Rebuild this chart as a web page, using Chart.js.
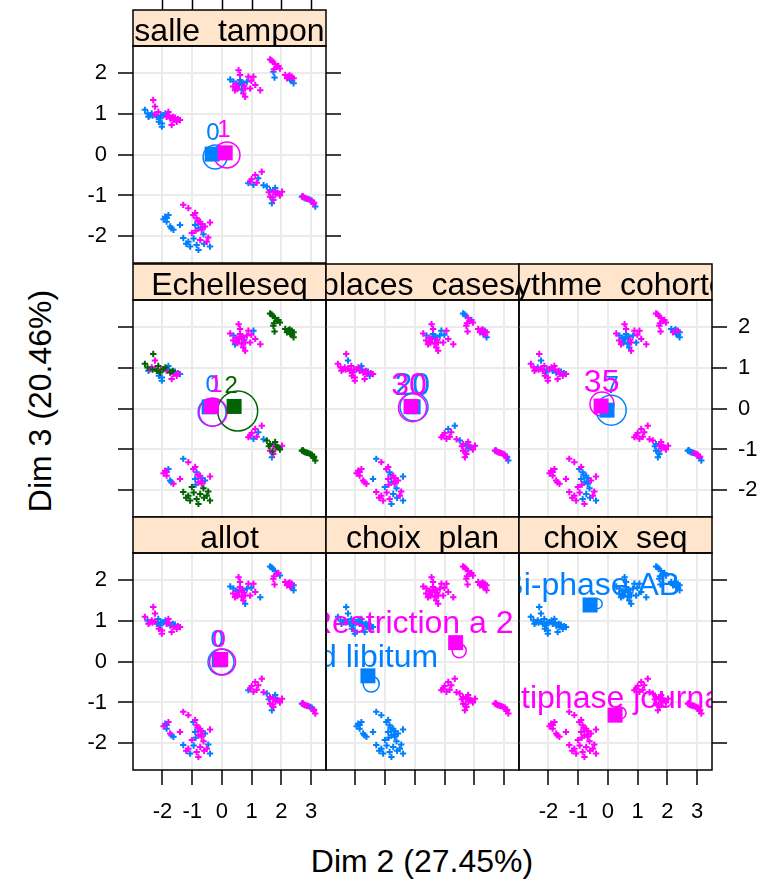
<!DOCTYPE html>
<html>
<head>
<meta charset="utf-8">
<title>Dim 2 / Dim 3</title>
<script src="https://cdn.jsdelivr.net/npm/chart.js@4.4.1/dist/chart.umd.min.js"></script>
<style>
  body { margin: 0; background: #fff; }
  #wrap { position: relative; width: 774px; height: 882px; overflow: hidden; background: #fff; }
  #wrap canvas { position: absolute; left: 0; top: 0; }
  .axtitle { position: absolute; font: 32px "Liberation Sans", Arial, sans-serif; color: #000; white-space: nowrap; line-height: 32px; }
</style>
</head>
<body>
<div id="wrap">
  <div class="axtitle" id="xtitle">Dim 2 (27.45%)</div>
  <div class="axtitle" id="ytitle">Dim 3 (20.46%)</div>
</div>
<script>
// individuals, same cloud in every panel (clusters A..F, then a second pass over A..F)
var ptX = [
  -2.59, -2.47, -2.31, -2.25, -2.14, -2.42, -2.08, -2.02, -1.97, -1.86, -1.80, -1.74, -1.63, -1.52, -1.41, -1.69, -2.02, -2.19, -2.36, -2.50, -1.90, -2.25, -1.58,
  0.56, 0.28, 0.39, 0.61, 0.67, 0.50, 0.78, 0.44, 0.72, 0.78, 0.89, 1.06, 1.12, 1.29, 0.84, 0.56, 0.95, 0.61, 0.70, 0.52,
  1.62, 1.71, 1.79, 1.85, 1.90, 1.73, 1.77, 2.13, 2.24, 2.35, 2.41, 2.30, 2.41, 2.19, 1.67, 2.28,
  1.12, 1.34, 0.89, 1.06, 1.17, 1.51, 1.62, 1.73, 1.85, 2.02, 1.62, 1.73, 1.68, 1.90, 1.79, 1.40, 1.95, 1.00,
  2.69, 2.80, 2.91, 3.03, 3.08, 3.14, 2.97, 2.75, 3.10,
  -1.91, -1.86, -1.74, -1.63, -1.80, -1.41, -1.30, -1.13, -0.96, -0.85, -0.73, -0.40, -0.90, -0.79, -0.68, -0.57, -1.01, -1.30, -1.13, -0.85, -0.73, -0.51, -0.40, -0.79, -1.07, -0.90, -1.86, -0.70, -0.62, -0.95,
  -2.33, -2.05, -1.78, -1.65, -2.12, -1.48,
  0.62, 0.48, 0.75, 0.66, 0.99, 0.38,
  1.75, 2.20, 2.36, 1.95,
  1.22, 1.58, 1.80, 1.70, 0.95,
  2.86, 3.02, 2.72,
  -1.96, -1.70, -0.82, -0.66, -0.88, -0.60, -1.20, -0.46
];
var ptY = [
  1.09, 0.92, 1.33, 1.17, 1.04, 0.96, 0.88, 0.76, 0.96, 0.92, 1.04, 0.88, 0.84, 0.80, 0.84, 0.72, 0.68, 0.92, 1.00, 1.00, 1.00, 0.98, 0.90,
  2.06, 1.83, 1.78, 1.82, 1.70, 1.65, 1.61, 1.57, 1.49, 1.41, 1.90, 1.90, 1.70, 1.57, 1.78, 1.70, 1.61, 1.94, 1.75, 1.60,
  2.32, 2.26, 2.21, 2.14, 2.16, 2.02, 1.88, 1.94, 1.91, 1.90, 1.86, 1.82, 1.74, 1.86, 2.30, 1.93,
  -0.50, -0.42, -0.70, -0.74, -0.69, -0.78, -0.87, -0.91, -0.93, -0.91, -1.03, -1.11, -1.19, -0.95, -0.82, -0.75, -1.00, -0.60,
  -1.03, -1.07, -1.09, -1.15, -1.21, -1.27, -1.11, -1.05, -1.18,
  -1.52, -1.64, -1.76, -1.84, -1.48, -1.72, -1.23, -1.31, -1.48, -1.56, -1.64, -1.66, -1.72, -1.80, -1.84, -1.76, -1.92, -2.04, -2.13, -2.21, -2.09, -2.13, -2.25, -2.33, -2.25, -1.43, -1.55, -1.70, -1.95, -2.05,
  0.95, 0.95, 0.95, 0.92, 0.80, 0.86,
  1.76, 1.72, 1.68, 1.58, 1.80, 1.66,
  2.08, 1.88, 1.80, 2.10,
  -0.58, -0.92, -0.98, -1.05, -0.66,
  -1.08, -1.13, -1.02,
  -1.58, -1.80, -1.62, -1.78, -1.86, -2.18, -2.18, -2.03
];

// category of each individual for each variable (one char per point)
var catSalle  = "00111000011111110000011" + "10000111111111001101" + "1111100111100111" + "110010011111000011" + "001110011" + "000000111111001110001100010100"
              + "001101" + "011011" + "1101" + "01101" + "101" + "00101001";
var catEchel  = "20212120210211010212210" + "11011110111011101111" + "2222222222222222" + "111012212111022021" + "222222222" + "110101011011011022222222211022"
              + "210201" + "110111" + "2222" + "02121" + "222" + "10110222";
var catPlaces = "11101111010110111111110" + "11000111110111011101" + "0011011110100101" + "001110101111101111" + "111010110" + "111110011010101101110100111101"
              + "110111" + "011101" + "1011" + "11011" + "110" + "11011011";
var catRythme = "11101101101011111101110" + "11000011011111000100" + "1111111001000110" + "111111011100011111" + "001100101" + "111111110001000111100101111001"
              + "101110" + "001011" + "1001" + "10101" + "010" + "11001011";
var catAllot  = "11110101011011111010010" + "10011111101110001101" + "0001111111010101" + "110110110111010111" + "011011011" + "001011110111011010111101010110"
              + "101011" + "101101" + "1100" + "10111" + "101" + "10110110";
var catPlan   = "00000000000000000000000" + "11111111111111111111" + "1111111111111111" + "111111111111111111" + "111111111" + "000000000000000000000000000000"
              + "000000" + "111111" + "1111" + "11111" + "111" + "00000000";
var catSeq    = "00000000000000000000000" + "00000000000000000000" + "0000000000000000" + "111111111111111111" + "111111111" + "111111111111111111111111111111"
              + "000000" + "000000" + "0000" + "11111" + "111" + "11111111";

// category centres (square), ellipse centres, label anchors
var salleLevels = ["0", "1"];
var salleCx = [-0.33, 0.11], salleCy = [0.01, 0.04];
var salleEx = [-0.23, 0.17], salleEy = [-0.06, -0.01];
var salleLx = [-0.30, 0.07], salleLy = [0.35, 0.43];

var echLevels = ["0", "1", "2"];
var echCx = [-0.43, -0.35, 0.41], echCy = [0.04, 0.05, 0.05];
var echEx = [-0.33, -0.30, 0.53], echEy = [-0.09, -0.09, -0.06];
var echLx = [-0.33, -0.20, 0.31], echLy = [0.40, 0.40, 0.38];

var placesLevels = ["20", "30"];
var placesCx = [-0.06, -0.13], placesCy = [0.04, 0.05];
var placesEx = [-0.03, -0.08], placesEy = [0.04, 0.02];
var placesLx = [-0.09, -0.20], placesLy = [0.33, 0.33];

var rythLevels = ["7", "35"];
var rythCx = [-0.03, -0.23], rythCy = [-0.04, 0.06];
var rythEx = [0.11, -0.20], rythEy = [-0.04, 0.11];
var rythLx = [0.14, -0.21], rythLy = [0.38, 0.40];

var allotLevels = ["0", "0"];
var allotCx = [-0.09, -0.04], allotCy = [0.04, 0.05];
var allotEx = [-0.03, 0.02], allotEy = [-0.01, -0.01];
var allotLx = [-0.16, -0.09], allotLy = [0.35, 0.35];

var planLevels = ["Ad libitum", "Restriction a 2 repas"];
var planCx = [-1.58, 1.37], planCy = [-0.35, 0.46];
var planEx = [-1.47, 1.49], planEy = [-0.55, 0.26];
var planLx = [-1.58, 1.37], planLy = [-0.13, 0.70];

var seqLevels = ["Bi-phase AB", "Multiphase journalier"];
var seqCx = [-0.60, 0.24], seqCy = [1.38, -1.31];
var seqEx = [-0.36, 0.41], seqEy = [1.41, -1.26];
var seqLx = [-0.56, 0.31], seqLy = [1.62, -1.14];

var xTicks = [-2, -1, 0, 1, 2, 3];
var yTicks = [-2, -1, 0, 1, 2];

var levelColors = ["#0080ff", "#ff00ff", "#006400"];
var W = 774, H = 882;
var colLeft = [133, 326, 519], panelTop = [46, 300, 553];
var panelW = 193, panelH = 217, stripH = 36, axisBox = 50;
var font = '"Liberation Sans", Arial, sans-serif';

var panels = [
  {title: "salle  tampon", col: 0, row: 0, cat: catSalle, lv: salleLevels, cx: salleCx, cy: salleCy, ex: salleEx, ey: salleEy, lx: salleLx, ly: salleLy,
   er: [12, 13], ls: [24, 24], left: "labels", right: "ticks", bottom: "none", top: true},
  {title: "Echelleseq", col: 0, row: 1, cat: catEchel, lv: echLevels, cx: echCx, cy: echCy, ex: echEx, ey: echEy, lx: echLx, ly: echLy,
   er: [14, 14, 20], ls: [24, 24, 24], left: "ticks", right: "none", bottom: "none"},
  {title: "places  cases/", col: 1, row: 1, cat: catPlaces, lv: placesLevels, cx: placesCx, cy: placesCy, ex: placesEx, ey: placesEy, lx: placesLx, ly: placesLy,
   er: [14, 14], ls: [32, 32], left: "none", right: "none", bottom: "none"},
  {title: "rythme  cohorte", col: 2, row: 1, cat: catRythme, lv: rythLevels, cx: rythCx, cy: rythCy, ex: rythEx, ey: rythEy, lx: rythLx, ly: rythLy,
   er: [15, 12], ls: [24, 32], left: "none", right: "labels", bottom: "none"},
  {title: "allot", col: 0, row: 2, cat: catAllot, lv: allotLevels, cx: allotCx, cy: allotCy, ex: allotEx, ey: allotEy, lx: allotLx, ly: allotLy,
   er: [13, 13], ls: [24, 24], left: "labels", right: "none", bottom: "labels"},
  {title: "choix  plan", col: 1, row: 2, cat: catPlan, lv: planLevels, cx: planCx, cy: planCy, ex: planEx, ey: planEy, lx: planLx, ly: planLy,
   er: [8, 7], ls: [32, 32], left: "none", right: "none", bottom: "ticks"},
  {title: "choix  seq", col: 2, row: 2, cat: catSeq, lv: seqLevels, cx: seqCx, cy: seqCy, ex: seqEx, ey: seqEy, lx: seqLx, ly: seqLy,
   er: [5, 6], ls: [32, 32], left: "none", right: "ticks", bottom: "labels"}
];

function axis(pos, mode, onArea, ticks) {
  var vertical = pos === "left" || pos === "right";
  return {
    type: "linear", position: pos,
    min: vertical ? -2.65 : -2.99, max: vertical ? 2.65 : 3.5,
    afterBuildTicks: function (s) { s.ticks = ticks.map(function (v) { return {value: v}; }); },
    afterFit: function (s) { if (vertical) s.width = axisBox; else s.height = axisBox; },
    border: {display: false},
    grid: {drawOnChartArea: onArea, color: "#ebebeb", lineWidth: 2, drawTicks: mode !== "none",
           tickLength: 15, tickColor: "#000", tickWidth: 1.5},
    ticks: {display: mode === "labels", color: "#000", font: {family: font, size: 22},
            padding: vertical ? 11 : 14, maxRotation: 0, autoSkip: false}
  };
}

function makePanel(p) {
  var canvas = document.createElement("canvas");
  canvas.width = W; canvas.height = H;
  document.getElementById("wrap").appendChild(canvas);
  var left = colLeft[p.col], top = panelTop[p.row];

  var datasets = [];
  p.lv.forEach(function (name, k) {
    var pts = [];
    for (var i = 0; i < ptX.length; i++) if (p.cat[i] === String(k)) pts.push({x: ptX[i], y: ptY[i]});
    datasets.push({data: pts, order: 30 - k, clip: 0, pointStyle: "cross", pointRadius: 3.2,
                   pointBorderColor: levelColors[k], pointBorderWidth: 2});
    datasets.push({data: [{x: p.ex[k], y: p.ey[k]}], order: 20 - k, clip: 0, pointStyle: "circle", pointRadius: p.er[k],
                   pointBorderColor: levelColors[k], pointBackgroundColor: "rgba(0,0,0,0)", pointBorderWidth: 1.5});
    datasets.push({data: [{x: p.cx[k], y: p.cy[k]}], order: 10 - k, clip: 0, pointStyle: "rect", pointRadius: 10.6,
                   pointBackgroundColor: levelColors[k], pointBorderWidth: 0});
  });

  var deco = {
    id: "deco",
    afterDatasetsDraw: function (chart) {
      var ctx = chart.ctx, a = chart.chartArea, sx = chart.scales.x, sy = chart.scales.y;
      ctx.save();
      ctx.beginPath(); ctx.rect(a.left, a.top, a.right - a.left, a.bottom - a.top); ctx.clip();
      ctx.textAlign = "center"; ctx.textBaseline = "alphabetic";
      p.lv.forEach(function (name, k) {
        ctx.font = p.ls[k] + "px " + font;
        ctx.fillStyle = levelColors[k];
        ctx.fillText(name, sx.getPixelForValue(p.lx[k]), sy.getPixelForValue(p.ly[k]));
      });
      ctx.restore();
    },
    afterDraw: function (chart) {
      var ctx = chart.ctx, a = chart.chartArea, sx = chart.scales.x;
      var sTop = a.top - stripH, w = a.right - a.left;
      ctx.save();
      ctx.fillStyle = "#ffe5cc";
      ctx.fillRect(a.left, sTop, w, stripH);
      ctx.strokeStyle = "#000"; ctx.lineWidth = 1.5;
      ctx.strokeRect(a.left, sTop, w, stripH);
      ctx.strokeRect(a.left, a.top, w, a.bottom - a.top);
      if (p.top) {
        xTicks.forEach(function (v) {
          var px = Math.round(sx.getPixelForValue(v)) + 0.5;
          ctx.beginPath(); ctx.moveTo(px, sTop - 15); ctx.lineTo(px, sTop); ctx.stroke();
        });
      }
      ctx.beginPath(); ctx.rect(a.left, sTop, w, stripH); ctx.clip();
      ctx.fillStyle = "#000"; ctx.font = "32px " + font;
      ctx.textAlign = "center"; ctx.textBaseline = "alphabetic";
      ctx.fillText(p.title, (a.left + a.right) / 2, a.top - 5);
      ctx.restore();
    }
  };

  new Chart(canvas, {
    type: "scatter",
    data: {datasets: datasets},
    options: {
      responsive: false, animation: false, events: [], devicePixelRatio: 1,
      layout: {padding: {left: left - axisBox, top: top,
                         right: W - left - panelW - axisBox, bottom: H - top - panelH - axisBox}},
      plugins: {legend: {display: false}, tooltip: {enabled: false}},
      scales: {
        x: axis("bottom", p.bottom, true, xTicks),
        y: axis("left", p.left, true, yTicks),
        y2: axis("right", p.right, false, yTicks)
      }
    },
    plugins: [deco]
  });
}

panels.forEach(makePanel);

var xt = document.getElementById("xtitle");
xt.style.left = "422px"; xt.style.top = "861px"; xt.style.transform = "translate(-50%, -50%)";
var yt = document.getElementById("ytitle");
yt.style.left = "40px"; yt.style.top = "401px"; yt.style.transform = "translate(-50%, -50%) rotate(-90deg)";
</script>
</body>
</html>
